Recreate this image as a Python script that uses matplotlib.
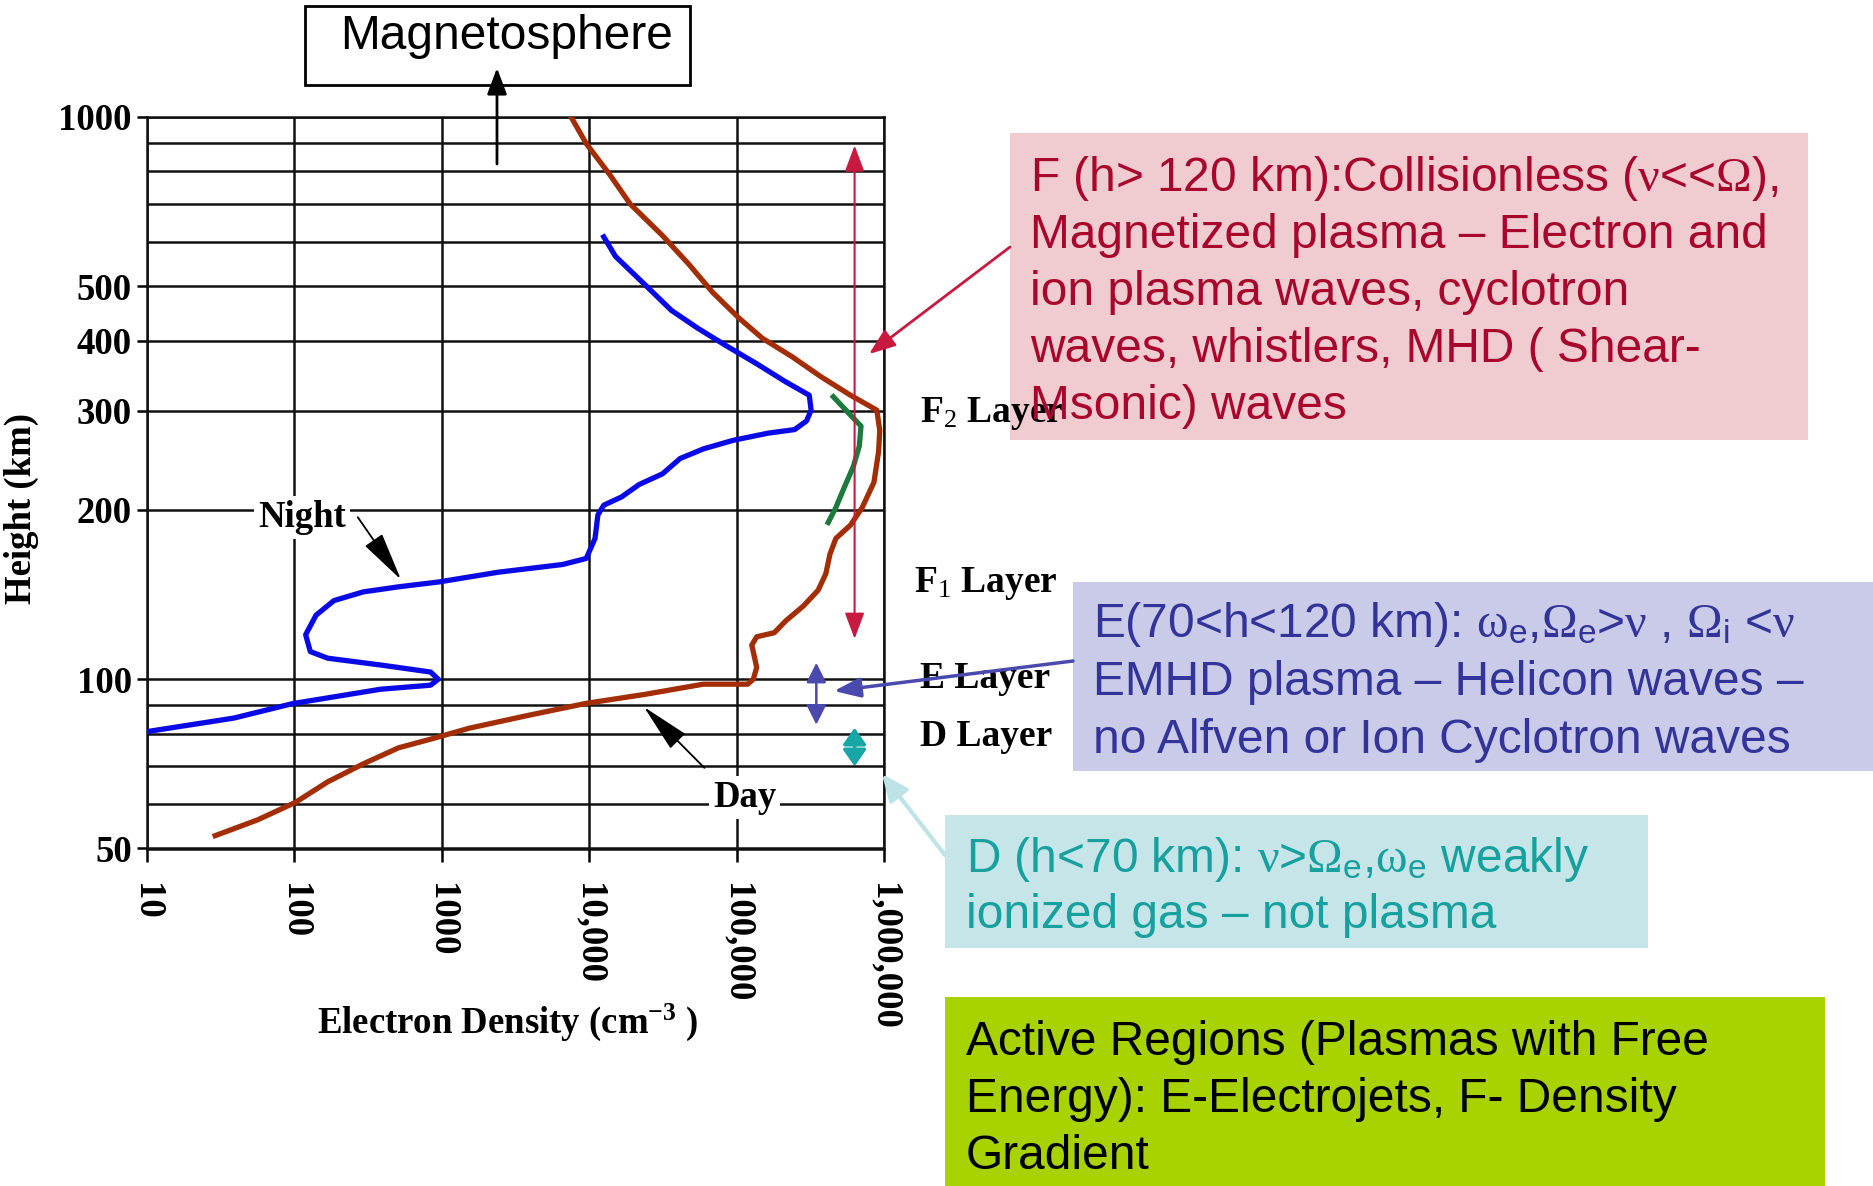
import numpy as np
import matplotlib.pyplot as plt
from matplotlib.patches import Rectangle

# electron density (cm^-3) against height (km)
day_ne = [7500, 9500, 13700, 18900, 31300, 47200, 68200, 103000, 148700, 235000,
          372000, 588000, 887000, 929000, 912000, 848000, 706000, 588000, 468000,
          427000, 400000, 355000, 282000, 214000, 179000, 136000, 126000, 136000,
          129000, 118000, 59000, 23800, 9500, 3800, 1520, 877, 506, 292, 168,
          101.6, 56, 29]
day_h = [1000, 897, 790, 700, 615, 547, 488, 439, 404, 375, 345, 320, 301, 277,
         254, 224, 202, 188, 178, 167, 154, 144, 135, 127, 121, 119, 115, 105,
         100, 98, 98, 94, 90.6, 86.2, 81.8, 78.5, 75.5, 70.7, 65.7, 60.4, 56.2,
         52.7]

night_ne = [12500, 15000, 23800, 35900, 54200, 85700, 136000, 214000, 309000,
            318000, 296000, 246000, 163000, 94000, 59500, 41200, 31300, 21700,
            16500, 12500, 11400, 10900, 9500, 6580, 2400, 960, 506, 292, 185,
            140, 119, 128, 168, 384, 837, 943, 837, 384, 97, 38.8, 10]
night_h = [612, 565, 503, 453, 421, 391, 364, 338, 320, 301, 288, 278, 274, 266,
           257, 247, 232, 222, 211, 204, 196, 178, 164, 160, 155, 149, 146, 143,
           138, 130, 120, 112, 109, 106, 103, 100, 97.6, 96, 90.5, 85.3, 80.7]

f2_ne = [450000, 588000, 693000, 675000, 615000, 536000, 468000, 415000]
f2_h = [318, 295, 282, 260, 239, 220, 202, 190]

x_ticks = [10, 100, 1000, 1e4, 1e5, 1e6]
x_labels = ['10', '100', '1000', '10,000', '100,000', '1,000,000']
y_ticks = [50, 100, 200, 300, 400, 500, 1000]
y_labels = ['50', '100', '200', '300', '400', '500', '1000']
y_grid = [60, 70, 80, 90, 600, 700, 800, 900]

# region markers: (density, low height, high height)
f_span = (627000, 118, 890)
e_span = (345000, 83, 107)
d_span = (627000, 70, 82)

serif = 'Liberation Serif'
sans = 'Liberation Sans'
plt.rcParams['mathtext.fontset'] = 'custom'
plt.rcParams['mathtext.rm'] = serif
plt.rcParams['mathtext.it'] = serif + ':italic'
plt.rcParams['mathtext.bf'] = serif + ':bold'
plt.rcParams['mathtext.sf'] = sans

fig = plt.figure(figsize=(18.74, 11.86), dpi=100)
ax = fig.add_axes([147 / 1874, 1 - 848.5 / 1186, 737.5 / 1874, 731.5 / 1186])
ax.set_xscale('log')
ax.set_yscale('log')
ax.set_xlim(10, 1e6)
ax.set_ylim(50, 1000)
ax.set_axisbelow(True)

ax.set_xticks(x_ticks)
ax.set_xticklabels(x_labels, rotation=-90, family=serif, fontweight='bold', fontsize=26.5)
ax.set_yticks(y_ticks)
ax.set_yticklabels(y_labels, family=serif, fontweight='bold', fontsize=26.5)
ax.set_yticks(y_grid, minor=True)
ax.xaxis.set_minor_locator(plt.NullLocator())
ax.tick_params(axis='x', which='major', length=9, width=1.8, pad=16)
ax.tick_params(axis='y', which='major', length=7, width=1.8, pad=4)
ax.tick_params(axis='y', which='minor', length=0)
ax.grid(True, which='major', color='#111111', lw=1.8)
ax.grid(True, which='minor', axis='y', color='#111111', lw=1.8)
for s in ax.spines.values():
    s.set_linewidth(1.8)
    s.set_color('#111111')

ax.plot(day_ne, day_h, color='#A32D05', lw=3.8, zorder=4)
ax.plot(night_ne, night_h, color='#0A0AE6', lw=3.8, zorder=4)
ax.plot(f2_ne, f2_h, color='#1B7A3C', lw=3.8, zorder=4)

lab = dict(family=serif, fontweight='bold', fontsize=26.5, ha='center', va='center',
           zorder=3, bbox=dict(facecolor='white', edgecolor='none', pad=3))
ax.text(113, 194, 'Night', **lab)
ax.text(112700, 61.5, 'Day', **lab)
ax.annotate('', xy=(540, 149), xytext=(262, 196),
            arrowprops=dict(arrowstyle='-|>,head_length=1.4,head_width=0.3',
                            color='black', lw=1.3, mutation_scale=22), zorder=5)
ax.annotate('', xy=(22700, 90), xytext=(62000, 69),
            arrowprops=dict(arrowstyle='-|>,head_length=1.4,head_width=0.3',
                            color='black', lw=1.3, mutation_scale=22), zorder=5)

ax.annotate('', xy=(f_span[0], f_span[1]), xytext=(f_span[0], f_span[2]),
            arrowprops=dict(arrowstyle='<|-|>,head_length=0.8,head_width=0.3',
                            color='#C8193F', lw=1.5, mutation_scale=20,
                            shrinkA=0, shrinkB=0), zorder=5)
ax.annotate('', xy=(e_span[0], e_span[1]), xytext=(e_span[0], e_span[2]),
            arrowprops=dict(arrowstyle='<|-|>,head_length=0.6,head_width=0.3',
                            color='#4A4AAE', lw=1.8, mutation_scale=20,
                            shrinkA=0, shrinkB=0), zorder=5)
ax.annotate('', xy=(d_span[0], d_span[1]), xytext=(d_span[0], d_span[2]),
            arrowprops=dict(arrowstyle='<|-|>,head_length=0.5,head_width=0.35',
                            color='#17A6A6', lw=2.6, mutation_scale=20,
                            shrinkA=0, shrinkB=0), zorder=5)

# overlay in pixel units for the side notes
ov = fig.add_axes([0, 0, 1, 1], facecolor='none')
ov.set_xlim(0, 1874)
ov.set_ylim(1186, 0)
ov.axis('off')

ov.text(508, 1022, r'Electron Density (cm$^{\mathbf{-3}}$ )', family=serif,
        fontweight='bold', fontsize=26.5, ha='center', va='center')
ov.text(21, 509, 'Height (km)', family=serif, fontweight='bold', fontsize=26.5,
        ha='center', va='center', rotation=90)

ov.add_patch(Rectangle((305, 6), 385, 79, facecolor='white', edgecolor='black', lw=2))
ov.text(507, 49, 'Magnetosphere', family=sans, fontsize=34.5, ha='center', va='baseline')
ov.annotate('', xy=(497, 68), xytext=(497, 164),
            arrowprops=dict(arrowstyle='-|>,head_length=0.8,head_width=0.3',
                            color='black', lw=2, mutation_scale=20, shrinkA=0, shrinkB=0))

layer = dict(family=serif, fontweight='bold', fontsize=27, ha='left', va='center', zorder=2)
ov.text(920, 414, r'F$_{\mathrm{2}}$ Layer', **layer)
ov.text(914, 584, r'F$_{\mathrm{1}}$ Layer', **layer)
ov.text(920, 678, 'E Layer', **layer)
ov.text(920, 737, 'D Layer', **layer)

boxes = [
    ((1010, 133), 798, 307, '#F0CCD1'),
    ((1073, 582), 801, 189, '#CACBE8'),
    ((945, 815), 703, 133, '#C5E5E8'),
    ((945, 997), 880, 189, '#A8D200'),
]
for (bx, by), bw, bh, fc in boxes:
    ov.add_patch(Rectangle((bx, by), bw, bh, facecolor=fc, edgecolor='none', zorder=1))

note = dict(family=sans, fontsize=34.5, ha='left', va='baseline', zorder=3)
f_lines = [r'F (h> 120 km):Collisionless ($\mathrm{\nu}$<<$\mathrm{\Omega}$),',
           'Magnetized plasma \u2013 Electron and',
           'ion plasma waves, cyclotron',
           'waves, whistlers, MHD ( Shear-',
           'Msonic) waves']
for i, s in enumerate(f_lines):
    ov.text(1030, 191 + 57 * i, s, color='#A8062C', **note)

e_lines = [r'E(70<h<120 km): $\mathrm{\omega}_\mathsf{e}$,$\mathrm{\Omega}_\mathsf{e}$'
           r'>$\mathrm{\nu}$ , $\mathrm{\Omega}_\mathsf{i}$ <$\mathrm{\nu}$',
           'EMHD plasma \u2013 Helicon waves \u2013',
           'no Alfven or Ion Cyclotron waves']
for i, s in enumerate(e_lines):
    ov.text(1093, 637 + 58 * i, s, color='#33349A', **note)

d_lines = [r'D (h<70 km): $\mathrm{\nu}$>$\mathrm{\Omega}_\mathsf{e}$,$\mathrm{\omega}_\mathsf{e}$ weakly',
           'ionized gas \u2013 not plasma']
for i, s in enumerate(d_lines):
    ov.text(966, 872 + 56 * i, s, color='#16A09E', **note)

a_lines = ['Active Regions (Plasmas with Free',
           'Energy): E-Electrojets, F- Density',
           'Gradient']
for i, s in enumerate(a_lines):
    ov.text(966, 1055 + 57 * i, s, color='black', **note)

ov.annotate('', xy=(869, 354), xytext=(1010, 247),
            arrowprops=dict(arrowstyle='-|>,head_length=0.8,head_width=0.3',
                            color='#C8193F', lw=2, mutation_scale=20, shrinkA=0, shrinkB=0))
ov.annotate('', xy=(834, 691), xytext=(1073, 661),
            arrowprops=dict(arrowstyle='-|>,head_length=0.8,head_width=0.3',
                            color='#4A4AAE', lw=2.5, mutation_scale=20, shrinkA=0, shrinkB=0))
ov.annotate('', xy=(882, 774), xytext=(945, 855),
            arrowprops=dict(arrowstyle='-|>,head_length=0.8,head_width=0.35',
                            color='#BDE3E6', lw=3, mutation_scale=20, shrinkA=0, shrinkB=0))

fig.savefig('out.png', dpi=100)
